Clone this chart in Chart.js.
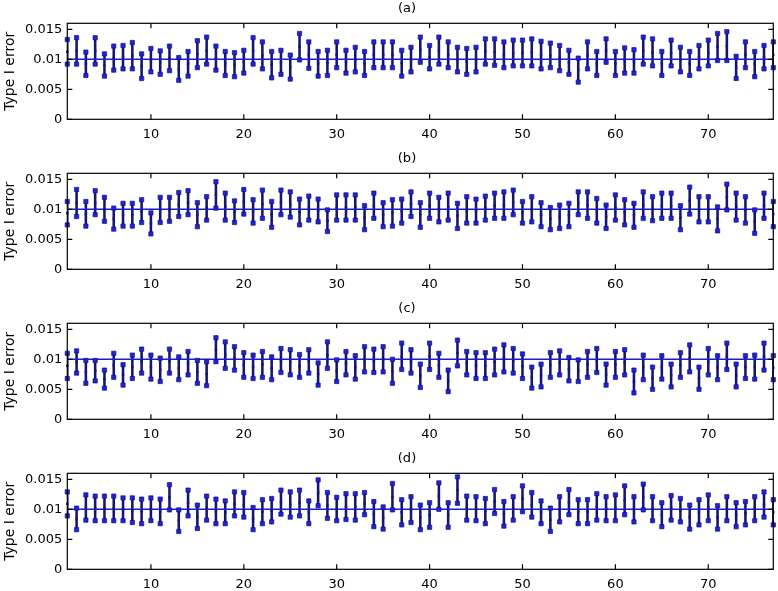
<!DOCTYPE html>
<html>
<head>
<meta charset="utf-8">
<script src="https://cdn.jsdelivr.net/npm/chart.js@4.4.1/dist/chart.umd.min.js"></script>
<style>
  html, body { margin: 0; padding: 0; background: #fff; overflow: hidden; }
  .panel { position: absolute; left: 0; width: 778px; height: 150px; }
</style>
</head>
<body>
<div class="panel" style="top:-2px"><canvas id="pa"></canvas></div>
<div class="panel" style="top:148px"><canvas id="pb"></canvas></div>
<div class="panel" style="top:298px"><canvas id="pc"></canvas></div>
<div class="panel" style="top:448px"><canvas id="pd"></canvas></div>
<script>
// x positions 1..77, ticks and the nominal level
const xValues = Array.from({ length: 77 }, (_, i) => i + 1);
const xTicks = [10, 20, 30, 40, 50, 60, 70];
const yTicks = [0, 0.005, 0.01, 0.015];
const nominal = 0.01;

// (a) error bar ends
const aHigh = [0.0133, 0.0136, 0.0112, 0.0136, 0.0109, 0.0122, 0.0123, 0.0128, 0.0109, 0.0118,
  0.0114, 0.0122, 0.0103, 0.0113, 0.0131, 0.0137, 0.0122, 0.0113, 0.0111, 0.0115,
  0.0136, 0.0129, 0.0113, 0.0115, 0.0107, 0.0143, 0.0129, 0.0113, 0.0115, 0.0129,
  0.0115, 0.0120, 0.0113, 0.0129, 0.0129, 0.0129, 0.0115, 0.0120, 0.0137, 0.0123,
  0.0137, 0.0129, 0.0120, 0.0118, 0.0120, 0.0134, 0.0134, 0.0129, 0.0132, 0.0132,
  0.0134, 0.0130, 0.0127, 0.0123, 0.0115, 0.0102, 0.0129, 0.0113, 0.0134, 0.0113,
  0.0119, 0.0116, 0.0137, 0.0134, 0.0113, 0.0132, 0.0120, 0.0113, 0.0123, 0.0132,
  0.0143, 0.0146, 0.0105, 0.0129, 0.0113, 0.0123, 0.0129];
const aLow = [0.0092, 0.0092, 0.0073, 0.0092, 0.0072, 0.0082, 0.0084, 0.0084, 0.0068, 0.0079,
  0.0075, 0.0081, 0.0065, 0.0072, 0.0086, 0.0092, 0.0082, 0.0073, 0.0071, 0.0077,
  0.0092, 0.0084, 0.0069, 0.0075, 0.0067, 0.0099, 0.0085, 0.0072, 0.0073, 0.0086,
  0.0077, 0.0079, 0.0073, 0.0086, 0.0086, 0.0086, 0.0072, 0.0079, 0.0095, 0.0084,
  0.0092, 0.0086, 0.0079, 0.0075, 0.0079, 0.0092, 0.0090, 0.0086, 0.0089, 0.0089,
  0.0089, 0.0084, 0.0086, 0.0081, 0.0075, 0.0062, 0.0084, 0.0073, 0.0095, 0.0073,
  0.0077, 0.0077, 0.0092, 0.0089, 0.0073, 0.0089, 0.0079, 0.0073, 0.0084, 0.0089,
  0.0098, 0.0098, 0.0068, 0.0086, 0.0071, 0.0084, 0.0086];

// (b)
const bHigh = [0.0113, 0.0133, 0.0113, 0.0131, 0.0120, 0.0102, 0.0110, 0.0110, 0.0116, 0.0094,
  0.0120, 0.0120, 0.0128, 0.0131, 0.0111, 0.0121, 0.0146, 0.0127, 0.0114, 0.0133,
  0.0116, 0.0132, 0.0113, 0.0132, 0.0129, 0.0117, 0.0122, 0.0117, 0.0099, 0.0124,
  0.0124, 0.0124, 0.0106, 0.0127, 0.0111, 0.0116, 0.0117, 0.0129, 0.0111, 0.0127,
  0.0120, 0.0127, 0.0110, 0.0121, 0.0117, 0.0122, 0.0127, 0.0129, 0.0132, 0.0113,
  0.0121, 0.0111, 0.0103, 0.0107, 0.0110, 0.0129, 0.0129, 0.0118, 0.0107, 0.0124,
  0.0116, 0.0110, 0.0129, 0.0121, 0.0127, 0.0127, 0.0106, 0.0137, 0.0121, 0.0121,
  0.0104, 0.0142, 0.0127, 0.0121, 0.0099, 0.0127, 0.0113];
const bLow = [0.0074, 0.0088, 0.0072, 0.0091, 0.0080, 0.0067, 0.0072, 0.0072, 0.0078, 0.0059,
  0.0078, 0.0080, 0.0088, 0.0091, 0.0071, 0.0082, 0.0102, 0.0082, 0.0078, 0.0092,
  0.0077, 0.0085, 0.0070, 0.0091, 0.0087, 0.0074, 0.0082, 0.0079, 0.0063, 0.0082,
  0.0082, 0.0082, 0.0066, 0.0085, 0.0071, 0.0072, 0.0077, 0.0088, 0.0070, 0.0085,
  0.0079, 0.0082, 0.0068, 0.0077, 0.0077, 0.0082, 0.0085, 0.0085, 0.0091, 0.0077,
  0.0079, 0.0071, 0.0066, 0.0068, 0.0071, 0.0091, 0.0085, 0.0077, 0.0068, 0.0082,
  0.0074, 0.0070, 0.0085, 0.0081, 0.0085, 0.0085, 0.0066, 0.0092, 0.0079, 0.0079,
  0.0064, 0.0099, 0.0082, 0.0077, 0.0060, 0.0085, 0.0071];

// (c)
const cHigh = [0.0110, 0.0114, 0.0098, 0.0098, 0.0082, 0.0110, 0.0091, 0.0107, 0.0117, 0.0107,
  0.0102, 0.0117, 0.0104, 0.0113, 0.0098, 0.0096, 0.0136, 0.0129, 0.0121, 0.0111,
  0.0107, 0.0113, 0.0104, 0.0118, 0.0116, 0.0108, 0.0116, 0.0094, 0.0129, 0.0099,
  0.0113, 0.0106, 0.0121, 0.0117, 0.0121, 0.0100, 0.0127, 0.0116, 0.0092, 0.0127,
  0.0110, 0.0082, 0.0132, 0.0113, 0.0111, 0.0111, 0.0117, 0.0124, 0.0118, 0.0109,
  0.0087, 0.0092, 0.0111, 0.0114, 0.0103, 0.0099, 0.0113, 0.0118, 0.0092, 0.0113,
  0.0116, 0.0082, 0.0107, 0.0087, 0.0106, 0.0092, 0.0111, 0.0124, 0.0087, 0.0118,
  0.0106, 0.0127, 0.0092, 0.0106, 0.0107, 0.0127, 0.0106];
const cLow = [0.0068, 0.0077, 0.0060, 0.0064, 0.0052, 0.0070, 0.0057, 0.0068, 0.0077, 0.0067,
  0.0063, 0.0077, 0.0066, 0.0074, 0.0060, 0.0056, 0.0096, 0.0085, 0.0082, 0.0070,
  0.0068, 0.0070, 0.0066, 0.0078, 0.0074, 0.0070, 0.0077, 0.0057, 0.0085, 0.0063,
  0.0074, 0.0067, 0.0079, 0.0078, 0.0079, 0.0060, 0.0083, 0.0077, 0.0053, 0.0083,
  0.0070, 0.0046, 0.0089, 0.0074, 0.0068, 0.0068, 0.0074, 0.0079, 0.0077, 0.0068,
  0.0052, 0.0054, 0.0070, 0.0074, 0.0064, 0.0063, 0.0070, 0.0078, 0.0057, 0.0070,
  0.0074, 0.0044, 0.0066, 0.0050, 0.0067, 0.0054, 0.0070, 0.0079, 0.0050, 0.0074,
  0.0066, 0.0083, 0.0054, 0.0068, 0.0067, 0.0082, 0.0066];

// (d)
const dHigh = [0.0129, 0.0102, 0.0124, 0.0122, 0.0122, 0.0122, 0.0119, 0.0119, 0.0117, 0.0119,
  0.0117, 0.0141, 0.0099, 0.0132, 0.0107, 0.0122, 0.0117, 0.0114, 0.0129, 0.0128,
  0.0103, 0.0116, 0.0118, 0.0132, 0.0129, 0.0132, 0.0114, 0.0149, 0.0128, 0.0120,
  0.0126, 0.0126, 0.0128, 0.0113, 0.0104, 0.0143, 0.0116, 0.0121, 0.0107, 0.0111,
  0.0144, 0.0111, 0.0154, 0.0122, 0.0121, 0.0118, 0.0133, 0.0113, 0.0121, 0.0139,
  0.0128, 0.0114, 0.0102, 0.0121, 0.0133, 0.0116, 0.0116, 0.0126, 0.0121, 0.0124,
  0.0139, 0.0121, 0.0142, 0.0121, 0.0111, 0.0123, 0.0118, 0.0107, 0.0116, 0.0124,
  0.0106, 0.0121, 0.0111, 0.0113, 0.0121, 0.0129, 0.0116];
const dLow = [0.0089, 0.0066, 0.0082, 0.0081, 0.0081, 0.0081, 0.0081, 0.0078, 0.0076, 0.0081,
  0.0076, 0.0099, 0.0063, 0.0089, 0.0068, 0.0082, 0.0076, 0.0076, 0.0089, 0.0087,
  0.0066, 0.0076, 0.0079, 0.0092, 0.0087, 0.0089, 0.0076, 0.0106, 0.0085, 0.0081,
  0.0083, 0.0082, 0.0091, 0.0071, 0.0067, 0.0099, 0.0074, 0.0078, 0.0066, 0.0070,
  0.0100, 0.0070, 0.0110, 0.0082, 0.0081, 0.0076, 0.0093, 0.0072, 0.0082, 0.0096,
  0.0087, 0.0076, 0.0063, 0.0079, 0.0091, 0.0076, 0.0076, 0.0082, 0.0081, 0.0081,
  0.0091, 0.0079, 0.0099, 0.0081, 0.0071, 0.0082, 0.0079, 0.0067, 0.0074, 0.0081,
  0.0067, 0.0081, 0.0071, 0.0074, 0.0081, 0.0087, 0.0074];

Chart.defaults.font.family = "'DejaVu Sans', sans-serif";
Chart.defaults.font.size = 13;
Chart.defaults.color = '#000';

const lineBlue = '#1c1cd4';
const barColor = '#16166e';
const markFill = '#2222dc';
const markEdge = '#10107e';

// box, inward tick marks (matlab style) and the panel letter
const framePlugin = {
  id: 'frame',
  afterDraw(chart, args, opts) {
    const { ctx, chartArea: a, scales: { x, y } } = chart;
    ctx.save();
    ctx.strokeStyle = '#000';
    ctx.lineWidth = 1.2;
    ctx.strokeRect(a.left, a.top, a.right - a.left, a.bottom - a.top);
    ctx.beginPath();
    x.ticks.forEach(t => {
      const px = x.getPixelForValue(t.value);
      ctx.moveTo(px, a.bottom); ctx.lineTo(px, a.bottom - 5);
      ctx.moveTo(px, a.top); ctx.lineTo(px, a.top + 5);
    });
    y.ticks.forEach(t => {
      const py = y.getPixelForValue(t.value);
      ctx.moveTo(a.left, py); ctx.lineTo(a.left + 5, py);
      ctx.moveTo(a.right, py); ctx.lineTo(a.right - 5, py);
    });
    ctx.stroke();
    ctx.fillStyle = '#000';
    ctx.font = "13px 'DejaVu Sans', sans-serif";
    ctx.textAlign = 'center';
    ctx.textBaseline = 'middle';
    ctx.fillText(opts.text, 407, 11);
    ctx.restore();
  }
};

function noPad(s) {
  s.paddingTop = 0; s.paddingBottom = 0; s.paddingLeft = 0; s.paddingRight = 0;
}

function makePanel(id, letter, low, high) {
  const mid = low.map((v, i) => (v + high[i]) / 2);
  new Chart(document.getElementById(id), {
    data: {
      datasets: [
        {
          type: 'bar',
          data: xValues.map((x, i) => ({ x, y: [low[i], high[i]] })),
          backgroundColor: barColor,
          barThickness: 1.9,
          order: 5
        },
        {
          type: 'line',
          data: [{ x: xValues[0], y: nominal }, { x: xValues[xValues.length - 1], y: nominal }],
          borderColor: lineBlue,
          borderWidth: 1.5,
          pointRadius: 0,
          order: 4
        },
        {
          type: 'scatter',
          data: xValues.map((x, i) => ({ x, y: high[i] })),
          pointStyle: 'rect', pointRadius: 3,
          backgroundColor: markFill, borderColor: markEdge, borderWidth: 0.7,
          clip: false, order: 3
        },
        {
          type: 'scatter',
          data: xValues.map((x, i) => ({ x, y: low[i] })),
          pointStyle: 'rect', pointRadius: 3,
          backgroundColor: markFill, borderColor: markEdge, borderWidth: 0.7,
          clip: false, order: 2
        },
        {
          type: 'scatter',
          data: xValues.map((x, i) => ({ x, y: mid[i] })),
          pointStyle: 'rect', pointRadius: 1.7,
          backgroundColor: barColor, borderWidth: 0,
          clip: false, order: 1
        }
      ]
    },
    options: {
      responsive: true,
      maintainAspectRatio: false,
      animation: false,
      events: [],
      layout: { padding: { top: 25.3, right: 4, left: 0, bottom: 0 } },
      plugins: {
        legend: { display: false },
        tooltip: { enabled: false },
        title: { display: false },
        frame: { text: letter }
      },
      scales: {
        x: {
          type: 'linear',
          min: 1, max: 77,
          offset: false,
          grid: { display: false, drawTicks: false },
          border: { display: false },
          ticks: { padding: 8, callback: v => String(v) },
          afterBuildTicks: s => { s.ticks = xTicks.map(v => ({ value: v })); },
          afterFit: s => { s.height = 28.7; noPad(s); }
        },
        y: {
          type: 'linear',
          min: 0, max: 0.016,
          grid: { display: false, drawTicks: false },
          border: { display: false },
          ticks: { padding: 5, callback: v => String(v) },
          afterBuildTicks: s => { s.ticks = yTicks.map(v => ({ value: v })); },
          afterFit: s => { s.width = 67.3; noPad(s); },
          title: { display: true, text: 'Type I error', font: { size: 14 }, padding: { top: 2, bottom: 0 } }
        }
      }
    },
    plugins: [framePlugin]
  });
}

makePanel('pa', '(a)', aLow, aHigh);
makePanel('pb', '(b)', bLow, bHigh);
makePanel('pc', '(c)', cLow, cHigh);
makePanel('pd', '(d)', dLow, dHigh);
</script>
</body>
</html>
